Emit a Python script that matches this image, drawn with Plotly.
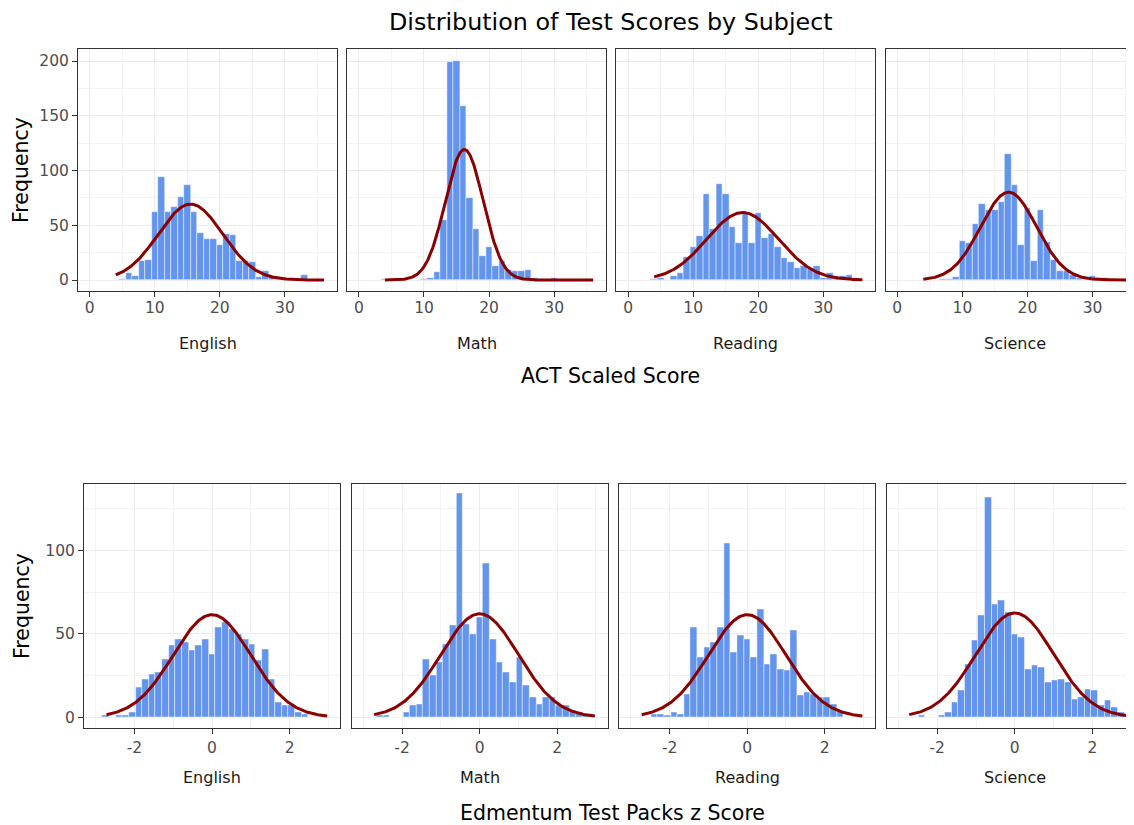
import math
import plotly.graph_objects as go

# ---------------- data ----------------
subjects = ["English", "Math", "Reading", "Science"]

# ACT scaled score histogram (bin width 1, centres 1..36)
act_scores = list(range(1, 37))
act_english = [0,0,0,0,1,6,4,17,18,62, 94,62,67,76,87,62,43,37,37,32, 42,41,17,17,16,3,8,3,1,1, 1,0,5,0,0,0]
act_math    = [0,0,0,1,1,0,0,0,0,1, 2,7,55,199,200,159,75,47,22,30, 13,17,9,8,8,9,2,1,0,2, 0,0,0,0,0,0]
act_reading = [0,0,0,1,2,0,4,6,21,30, 40,79,47,88,79,48,34,60,34,61, 38,42,30,20,16,11,13,10,13,2, 6,4,4,5,2,0]
act_science = [0,0,0,0,0,0,1,1,3,36, 34,51,69,64,64,71,115,87,32,66, 17,64,35,18,8,8,5,2,1,4, 2,2,0,0,0,0]
act_counts = [act_english, act_math, act_reading, act_science]
act_binwidth = 1.0

# normal-curve parameters for ACT panels (mean, sd, n)
act_mean = [15.5, 16.2, 17.6, 17.1]
act_sd = [4.95, 2.9, 5.5, 4.3]
act_n = [860, 867, 850, 864]
act_curve_range = (4.0, 36.0)

# Edmentum z-score histogram (bin index -16..17, bin width ~0.1714)
z_bin_index = list(range(-16, 18))
z_binwidth = 0.1714
z_english = [1,0,1,1,3,18,23,26,27,35,43,47,45,40,43,47,38,54,57,53,50,47,44,34,41,23,9,7,7,3,2,0,0,0]
z_math    = [0,1,1,0,0,3,7,8,35,25,33,44,55,134,56,50,60,92,47,33,27,21,36,19,12,8,12,12,7,7,4,3,2,1]
z_reading = [0,0,2,2,1,3,2,14,54,36,42,45,54,104,39,49,47,36,65,32,38,29,28,52,13,15,14,12,12,8,4,0,0,0]
z_science = [0,0,1,0,0,1,3,9,16,32,46,61,132,68,70,63,50,48,29,31,30,21,22,23,21,11,12,17,16,7,10,6,3,1]
z_counts = [z_english, z_math, z_reading, z_science]
z_n = [899, 907, 899, 914]
z_curve_range = (-2.72, 2.97)

act_xticks = [0, 10, 20, 30]
act_xlabels = ["0", "10", "20", "30"]
act_xminor = [5, 15, 25, 35]
act_yticks = [0, 50, 100, 150, 200]
act_ylabels = ["0", "50", "100", "150", "200"]
act_yminor = [25, 75, 125, 175]
z_xticks = [-2, 0, 2]
z_xlabels = ["-2", "0", "2"]
z_xminor = [-3, -1, 1, 3]
z_yticks = [0, 50, 100]
z_ylabels = ["0", "50", "100"]
z_yminor = [25, 75, 125]

# ---------------- style / layout ----------------
PAGE_W, PAGE_H = 1134, 825
OFF = 8  # default body margin of the html page
W, H = PAGE_W - OFF, PAGE_H - OFF
FONT = "DejaVu Sans"
BAR = "#6495ED"
CURVE = "#8B0000"
GRID = "#EBEBEB"
GRID_MINOR = "#F3F3F3"
BORDER = "#333333"
TICKTXT = "#4D4D4D"


def fx(p):
    return (p - OFF) / W


def fy(p):
    return 1 - (p - OFF) / H


top_lefts = [78 + 269.2 * i for i in range(4)]
top_w = 259.0
top_y = (49.0, 291.0)
top_xrange = (-1.8, 38.0)
top_yrange = (-10.05, 211.0)

bot_lefts = [84 + 267.6 * i for i in range(4)]
bot_w = 256.0
bot_y = (484.3, 728.3)
bot_xrange = (-3.3, 3.3)
bot_yrange = (-6.65, 139.65)


def npdf(x, m, s):
    return math.exp(-0.5 * ((x - m) / s) ** 2) / (s * math.sqrt(2 * math.pi))


fig = go.Figure()
layout = dict()


def add_panel(idx, left, width, yb, xr, yr, centers, counts, bw, mean, sd, n, crange,
              xt, xl, xm, yt, yl, ym, first, last, standoff):
    ax = "" if idx == 1 else str(idx)
    right = left + width
    xr_use = list(xr)
    if right > PAGE_W:
        px_per_unit = width / (xr[1] - xr[0])
        xr_use[1] = xr[0] + (PAGE_W - left) / px_per_unit
        right = PAGE_W
    fig.add_trace(go.Bar(
        x=centers, y=counts, width=bw,
        marker=dict(color=BAR, line=dict(color="rgba(255,255,255,0.75)", width=0.6)),
        xaxis="x" + ax, yaxis="y" + ax, showlegend=False, hoverinfo="x+y"))
    steps = 300
    xs = [crange[0] + (crange[1] - crange[0]) * i / steps for i in range(steps + 1)]
    ys = [n * bw * npdf(v, mean, sd) for v in xs]
    fig.add_trace(go.Scatter(
        x=xs, y=ys, mode="lines", line=dict(color=CURVE, width=3),
        xaxis="x" + ax, yaxis="y" + ax, showlegend=False, hoverinfo="skip"))
    layout["xaxis" + ax] = dict(
        domain=[fx(left), min(1.0, fx(right))], anchor="y" + ax, range=xr_use,
        tickmode="array", tickvals=xt, ticktext=xl, ticks="outside", ticklen=5,
        tickcolor=BORDER, tickwidth=1, showgrid=True, gridcolor=GRID, gridwidth=1,
        minor=dict(tickmode="array", tickvals=xm, showgrid=True, gridcolor=GRID_MINOR, gridwidth=1),
        showline=True, linecolor=BORDER, linewidth=1, mirror=True, zeroline=False,
        tickfont=dict(family=FONT, size=15.5, color=TICKTXT), ticklabelstandoff=standoff,
        fixedrange=True)
    layout["yaxis" + ax] = dict(
        domain=[fy(yb[1]), fy(yb[0])], anchor="x" + ax, range=list(yr),
        tickmode="array", tickvals=yt, ticktext=yl, ticks="outside" if first else "",
        ticklen=5, tickcolor=BORDER, tickwidth=1, showticklabels=first,
        showgrid=True, gridcolor=GRID, gridwidth=1,
        minor=dict(tickmode="array", tickvals=ym, showgrid=True, gridcolor=GRID_MINOR, gridwidth=1),
        showline=True, linecolor=BORDER, linewidth=1, mirror=not last, zeroline=False,
        tickfont=dict(family=FONT, size=15.5, color=TICKTXT), fixedrange=True)


for i in range(4):
    add_panel(i + 1, top_lefts[i], top_w, top_y, top_xrange, top_yrange,
              act_scores, act_counts[i], act_binwidth, act_mean[i], act_sd[i], act_n[i],
              act_curve_range, act_xticks, act_xlabels, act_xminor,
              act_yticks, act_ylabels, act_yminor, i == 0, i == 3, -3)
    zc = [j * z_binwidth for j in z_bin_index]
    add_panel(i + 5, bot_lefts[i], bot_w, bot_y, bot_xrange, bot_yrange,
              zc, z_counts[i], z_binwidth, 0.0, 1.0, z_n[i],
              z_curve_range, z_xticks, z_xlabels, z_xminor,
              z_yticks, z_ylabels, z_yminor, i == 0, i == 3, 0)

annotations = []


def txt(text, x, y, size, color="#000000", angle=0):
    annotations.append(dict(
        text=text, x=fx(x), y=fy(y), xref="paper", yref="paper",
        xanchor="center", yanchor="middle", showarrow=False, textangle=angle,
        font=dict(family=FONT, size=size, color=color)))


txt("Distribution of Test Scores by Subject", 611, 22, 23.8)
txt("Frequency", 21, 170, 20.5, angle=-90)
txt("Frequency", 22, 606, 20.5, angle=-90)
txt("ACT Scaled Score", 610, 376, 20.5)
txt("Edmentum Test Packs z Score", 612, 813, 20.5)
for i, s in enumerate(subjects):
    txt(s, top_lefts[i] + top_w / 2, 344, 16, "#1A1A1A")
    txt(s, bot_lefts[i] + bot_w / 2, 777, 16, "#1A1A1A")

fig.update_layout(
    width=W, height=H, autosize=False,
    margin=dict(l=0, r=0, t=0, b=0),
    paper_bgcolor="white", plot_bgcolor="white",
    bargap=0, barmode="overlay",
    font=dict(family=FONT),
    annotations=annotations,
    **layout)

fig.write_html("out.html")
